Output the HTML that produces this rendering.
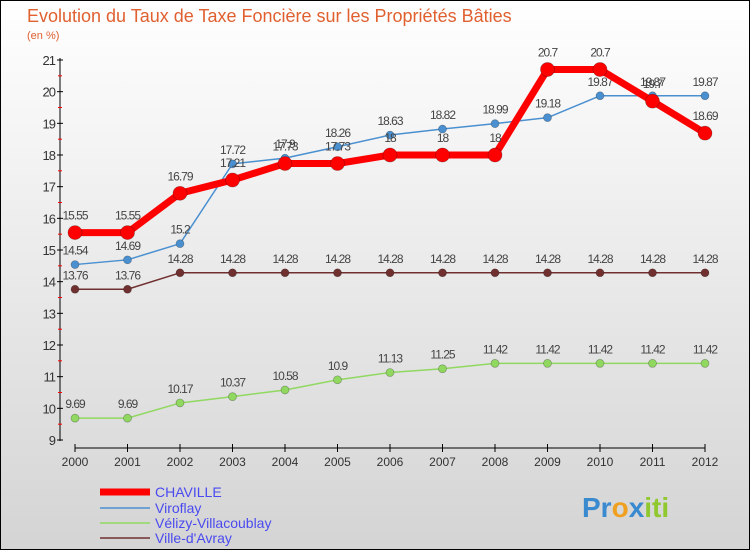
<!DOCTYPE html>
<html><head><meta charset="utf-8"><style>
body{margin:0;width:750px;height:550px;overflow:hidden;font-family:"Liberation Sans",sans-serif}
svg text{font-family:"Liberation Sans",sans-serif}
</style></head><body>
<svg width="750" height="550">
<defs><linearGradient id="bg" x1="0" y1="0" x2="0" y2="1"><stop offset="0" stop-color="#ffffff"/><stop offset="1" stop-color="#d4d4d4"/></linearGradient></defs>
<rect x="0.5" y="0.5" width="749" height="549" fill="url(#bg)" stroke="#000"/>
<text x="27" y="22" font-size="18" fill="#e06030">Evolution du Taux de Taxe Foncière sur les Propriétés Bâties</text>
<text x="27" y="39" font-size="11" fill="#e06030">(en %)</text>
<g id="axes"></g><g id="series"></g>
<g>
<line x1="100" y1="492" x2="150" y2="492" stroke="#f00" stroke-width="7"/>
<text x="155" y="497" font-size="14" fill="#4a4af0">CHAVILLE</text>
<line x1="100" y1="508" x2="150" y2="508" stroke="#4a90d0" stroke-width="1.5"/>
<text x="155" y="513" font-size="14" fill="#4a4af0">Viroflay</text>
<line x1="100" y1="523" x2="150" y2="523" stroke="#90d860" stroke-width="1.5"/>
<text x="155" y="528" font-size="14" fill="#4a4af0">Vélizy-Villacoublay</text>
<line x1="100" y1="538" x2="150" y2="538" stroke="#703030" stroke-width="1.5"/>
<text x="155" y="543" font-size="14" fill="#4a4af0">Ville-d'Avray</text>
</g>
<text x="582" y="517" font-size="28" font-weight="bold"><tspan fill="#3a8ad0">Pr</tspan><tspan fill="#f0a020">o</tspan><tspan fill="#3a8ad0">x</tspan><tspan fill="#90c830">iti</tspan></text>
</svg>
<script>
const years=[2000,2001,2002,2003,2004,2005,2006,2007,2008,2009,2010,2011,2012];
const yTicks=[9,10,11,12,13,14,15,16,17,18,19,20,21];
const chaville=[15.55,15.55,16.79,17.21,17.73,17.73,18,18,18,20.7,20.7,19.7,18.69];
const viroflay=[14.54,14.69,15.2,17.72,17.9,18.26,18.63,18.82,18.99,19.18,19.87,19.87,19.87];
const velizy=[9.69,9.69,10.17,10.37,10.58,10.9,11.13,11.25,11.42,11.42,11.42,11.42,11.42];
const avray=[13.76,13.76,14.28,14.28,14.28,14.28,14.28,14.28,14.28,14.28,14.28,14.28,14.28];
const NS="http://www.w3.org/2000/svg";
const X=i=>75+i*52.5, Y=v=>440-(v-9)*31.667;
function mk(t,a,p){const e=document.createElementNS(NS,t);for(const k in a)e.setAttribute(k,a[k]);p.appendChild(e);return e;}
const ax=document.getElementById('axes');
mk('line',{x1:60,y1:58,x2:60,y2:441,stroke:'#000'},ax);
mk('line',{x1:75,y1:448,x2:705,y2:448,stroke:'#000'},ax);
yTicks.forEach(v=>{mk('line',{x1:57,y1:Y(v),x2:63,y2:Y(v),stroke:'#000'},ax);
 if(v<21)mk('line',{x1:58,y1:Y(v+0.5),x2:62,y2:Y(v+0.5),stroke:'#f00'},ax);
 const t=mk('text',{x:55,y:Y(v)+5,'font-size':13,fill:'#333','text-anchor':'end','letter-spacing':'-1'},ax);t.textContent=v;
 });
years.forEach((y,i)=>{mk('line',{x1:X(i),y1:444,x2:X(i),y2:452,stroke:'#000'},ax);
 const t=mk('text',{x:X(i),y:466,'font-size':12,fill:'#333','text-anchor':'middle'},ax);t.textContent=y;
 });
const sg=document.getElementById('series');
function series(vals,col,w,r,name){
 const g=mk('g',{},sg);
 
 
 mk('polyline',{points:vals.map((v,i)=>X(i)+','+Y(v)).join(' '),fill:'none',stroke:col,'stroke-width':w,'stroke-linejoin':'round'},g);
 vals.forEach((v,i)=>{const c=mk('circle',{cx:X(i),cy:Y(v),r:r,fill:col,stroke:'rgba(0,0,0,0.3)','stroke-width':0.7},g);
  
  const t=mk('text',{x:X(i),y:Y(v)-10-(r>5?3:0),'font-size':12,fill:'#444','text-anchor':'middle','letter-spacing':'-1'},g);t.textContent=v;
  });
}
series(velizy,'#90d860',1.5,4,'velizy-series');
series(avray,'#703030',1.5,4,'ville-davray-series');
series(viroflay,'#4a90d0',1.5,4,'viroflay-series');
series(chaville,'#f00',7,7,'chaville-series');
</script>
</body></html>
